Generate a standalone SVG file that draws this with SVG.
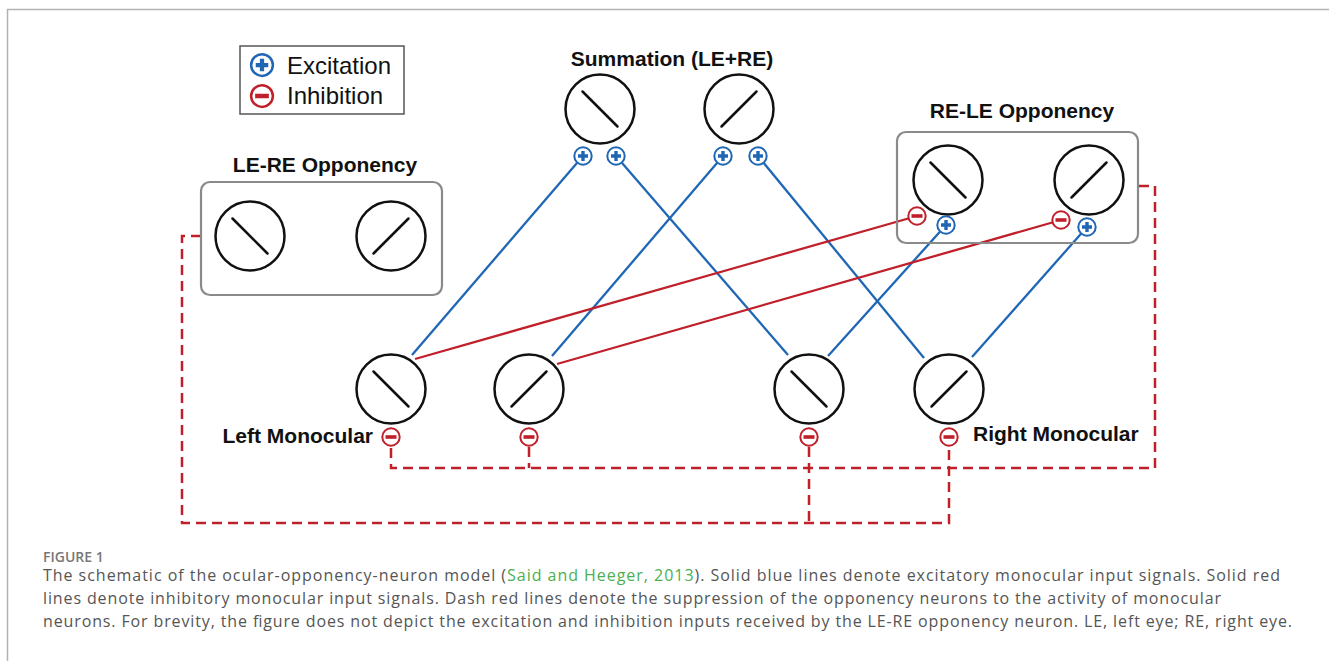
<svg xmlns="http://www.w3.org/2000/svg" xmlns:xlink="http://www.w3.org/1999/xlink" width="1329" height="661" viewBox="0 0 1329 661">
<style>
.neuron{fill:#fff;stroke:#111;stroke-width:2.5}
.slash{stroke:#111;stroke-width:2.5;stroke-linecap:round}
.box{fill:none;stroke:#8a8a8a;stroke-width:2.2}
.title{font-family:"Liberation Sans",Arial,sans-serif;font-weight:bold;font-size:21px;fill:#111}
.leg{font-family:"Liberation Sans",Arial,sans-serif;font-size:24px;fill:#111}
.exc{stroke:#1f67b5;stroke-width:2.3;fill:none}
.inh{stroke:#c0202a;stroke-width:2.3;fill:none}
.dash{stroke:#c0202a;stroke-width:2.5;fill:none;stroke-dasharray:10 6}
.cap{font-family:"Open Sans","Liberation Sans",sans-serif;font-size:16px;fill:#555}
.fig{font-family:"Open Sans","Liberation Sans",sans-serif;font-size:14px;font-weight:600;fill:#777}
</style>
<defs>
<g id="plus"><circle r="8.7" fill="#fff" stroke="#1f67b5" stroke-width="2"/><path d="M-5,0H5M0,-5V5" stroke="#1f67b5" stroke-width="3.4"/></g>
<g id="minus"><circle r="8.7" fill="#fff" stroke="#c0202a" stroke-width="2"/><path d="M-5.5,0H5.5" stroke="#c0202a" stroke-width="3.6"/></g>
<g id="nback"><circle r="34.5" class="neuron"/><line x1="-17.5" y1="-17.5" x2="17.5" y2="17.5" class="slash"/></g>
<g id="nfwd"><circle r="34.5" class="neuron"/><line x1="-17.5" y1="17.5" x2="17.5" y2="-17.5" class="slash"/></g>
</defs>
<rect width="1329" height="661" fill="#fff"/>
<path d="M7.5,661V9.5H1329" fill="none" stroke="#b3b3b3" stroke-width="1.5"/>

<g id="connectors">
<line class="exc" x1="583" y1="156" x2="412" y2="355"/>
<line class="exc" x1="616" y1="156" x2="788" y2="355"/>
<line class="exc" x1="723" y1="156" x2="552" y2="356"/>
<line class="exc" x1="758" y1="156" x2="924" y2="358"/>
<line class="exc" x1="946" y1="225" x2="828" y2="356"/>
<line class="exc" x1="1087" y1="227" x2="972" y2="357"/>
<line class="inh" x1="415" y1="359" x2="917" y2="216"/>
<line class="inh" x1="557" y1="364" x2="1061" y2="220"/>
<path class="dash" d="M1139,186H1155V468H391V447"/>
<path class="dash" d="M529,447V468"/>
<path class="dash" d="M201,236H182V523H949V447"/>
<path class="dash" d="M809,447V523"/>
</g>

<g id="legend">
<rect x="240" y="46" width="164" height="68" fill="#fff" stroke="#555" stroke-width="1.5"/>
<use xlink:href="#plus" transform="translate(262,65) scale(1.25)"/>
<use xlink:href="#minus" transform="translate(262,96) scale(1.25)"/>
<text class="leg" x="287" y="74">Excitation</text>
<text class="leg" x="287" y="104">Inhibition</text>
</g>

<g id="le-re-opponency">
<text class="title" x="325" y="172" text-anchor="middle">LE-RE Opponency</text>
<rect class="box" x="201" y="182" width="241" height="113" rx="9"/>
<use xlink:href="#nback" x="250" y="236"/>
<use xlink:href="#nfwd" x="391" y="236"/>
</g>

<g id="summation">
<text class="title" x="672" y="66" text-anchor="middle">Summation (LE+RE)</text>
<use xlink:href="#nback" x="600" y="109"/>
<use xlink:href="#nfwd" x="739" y="109"/>
<use xlink:href="#plus" x="583" y="156"/>
<use xlink:href="#plus" x="616" y="156"/>
<use xlink:href="#plus" x="723" y="156"/>
<use xlink:href="#plus" x="758" y="156"/>
</g>

<g id="re-le-opponency">
<text class="title" x="1022" y="118" text-anchor="middle">RE-LE Opponency</text>
<rect class="box" x="897" y="132" width="241" height="111" rx="9"/>
<use xlink:href="#nback" x="948" y="180"/>
<use xlink:href="#nfwd" x="1089" y="180"/>
<use xlink:href="#minus" x="917" y="216"/>
<use xlink:href="#plus" x="946" y="225"/>
<use xlink:href="#minus" x="1061" y="220"/>
<use xlink:href="#plus" x="1087" y="227"/>
</g>

<g id="left-monocular">
<use xlink:href="#nback" x="391" y="389"/>
<use xlink:href="#nfwd" x="529" y="389"/>
<use xlink:href="#minus" x="391" y="437"/>
<use xlink:href="#minus" x="529" y="437"/>
<text class="title" x="373" y="443" text-anchor="end">Left Monocular</text>
</g>

<g id="right-monocular">
<use xlink:href="#nback" x="809" y="389"/>
<use xlink:href="#nfwd" x="949" y="389"/>
<use xlink:href="#minus" x="809" y="437"/>
<use xlink:href="#minus" x="949" y="437"/>
<text class="title" x="973" y="441">Right Monocular</text>
</g>

<g id="caption">
<text class="fig" x="43" y="562">FIGURE 1</text>
<text class="cap" x="43" y="581" textLength="1237" lengthAdjust="spacing">The schematic of the ocular-opponency-neuron model (<tspan fill="#4caf50">Said and Heeger, 2013</tspan>). Solid blue lines denote excitatory monocular input signals. Solid red</text>
<text class="cap" x="43" y="604" textLength="1178" lengthAdjust="spacing">lines denote inhibitory monocular input signals. Dash red lines denote the suppression of the opponency neurons to the activity of monocular</text>
<text class="cap" x="43" y="627" textLength="1249" lengthAdjust="spacing">neurons. For brevity, the figure does not depict the excitation and inhibition inputs received by the LE-RE opponency neuron. LE, left eye; RE, right eye.</text>
</g>
</svg>
